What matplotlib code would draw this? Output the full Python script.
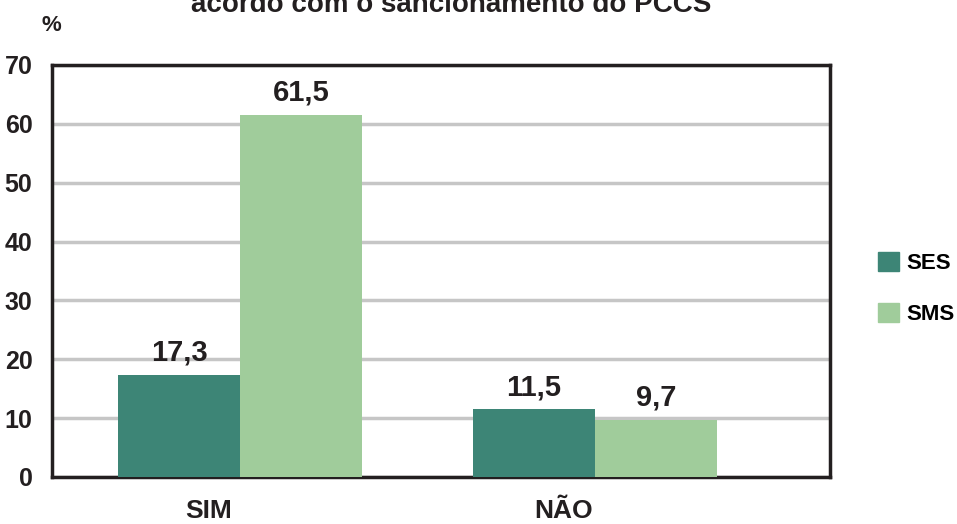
import numpy as np
import matplotlib
matplotlib.use('Agg')
import matplotlib.pyplot as plt
from matplotlib.patches import Patch

categories = ['SIM', 'NÃO']
ses_values = [17.3, 11.5]
sms_values = [61.5, 9.7]
ses_labels = ['17,3', '11,5']
sms_labels = ['61,5', '9,7']
yticks = [0, 10, 20, 30, 40, 50, 60, 70]

ses_color = '#3d8576'
sms_color = '#a0cc9b'
dark = '#231f20'
plt.rcParams['font.family'] = ['Liberation Sans', 'DejaVu Sans']
plt.rcParams['font.weight'] = 'bold'

fig = plt.figure(figsize=(9.57, 5.24), dpi=100)
ax = fig.add_axes([0.0543, 0.0897, 0.8130, 0.7863])

x = np.arange(len(categories))
w = 0.344
b1 = ax.bar(x - w / 2, ses_values, w, color=ses_color, zorder=3)
b2 = ax.bar(x + w / 2, sms_values, w, color=sms_color, zorder=3)

# value labels above each bar
for bars, labels in [(b1, ses_labels), (b2, sms_labels)]:
    for rect, lab in zip(bars, labels):
        ax.text(rect.get_x() + rect.get_width() / 2, rect.get_height() + 1.4, lab,
                ha='center', va='bottom', fontsize=21, fontweight='bold', color=dark)

ax.set_xlim(-0.53, 1.662)
ax.set_ylim(0, 70)
ax.set_yticks(yticks)
ax.set_yticklabels([str(t) for t in yticks], fontsize=18, fontweight='bold', color=dark)
ax.set_xticks(x - 0.09)
ax.set_xticklabels(categories, fontsize=19, fontweight='bold', color=dark)
ax.tick_params(axis='both', length=0)
ax.tick_params(axis='x', pad=16)
ax.tick_params(axis='y', pad=14)

ax.yaxis.grid(True, color='#c6c6c6', linewidth=2.5, zorder=0)
ax.set_axisbelow(True)
for s in ax.spines.values():
    s.set_linewidth(2.5)
    s.set_color(dark)

fig.text(0.043, 0.952, '%', fontsize=16, fontweight='bold', color=dark, ha='left', va='center')
fig.text(0.471, 0.99, 'acordo com o sancionamento do PCCS', fontsize=20, fontweight='bold',
         color=dark, ha='center', va='center')

handles = [Patch(color=ses_color, label='SES'), Patch(color=sms_color, label='SMS')]
fig.legend(handles=handles, loc='center left', bbox_to_anchor=(0.917, 0.45), frameon=False,
           fontsize=16, handlelength=0.95, handleheight=0.95, labelspacing=1.3, handletextpad=0.35,
           borderpad=0, borderaxespad=0)

fig.savefig('out.png', dpi=100)
